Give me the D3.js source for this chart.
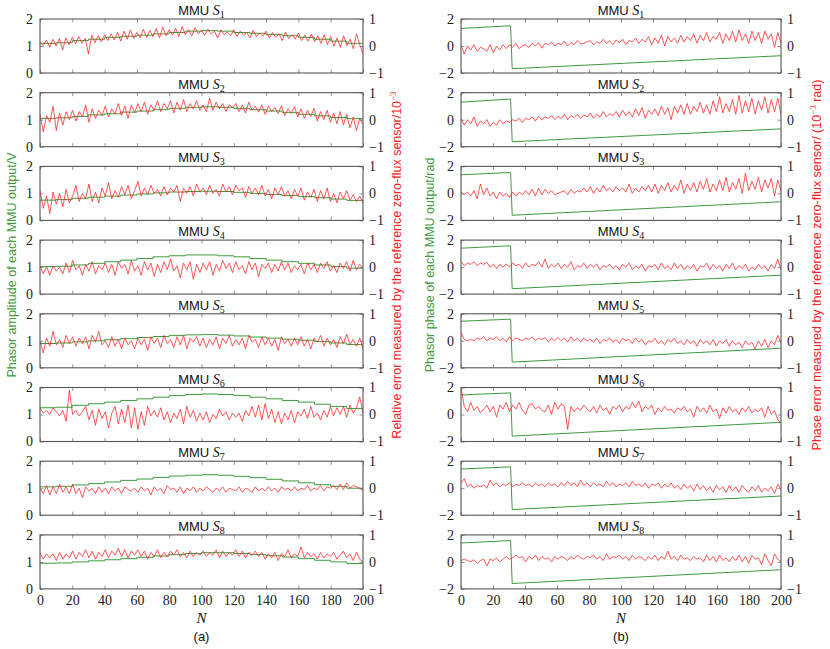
<!DOCTYPE html>
<html>
<head>
<meta charset="utf-8">
<script src="https://cdn.jsdelivr.net/npm/d3@7"></script>
<style>
body { margin:0; background:#fff; }
svg { display:block; }
</style>
</head>
<body>
<div id="chart"></div>
<script>
// ##### data #####
// green amplitude (left col), one level per 10 samples
var ampA1 = [1.10,1.12,1.20,1.25,1.32,1.36,1.40,1.45,1.50,1.55,1.57,1.55,1.50,1.47,1.42,1.38,1.32,1.25,1.18,1.10];
var ampA2 = [1.05,1.07,1.12,1.18,1.22,1.28,1.32,1.37,1.42,1.46,1.48,1.46,1.42,1.37,1.32,1.26,1.20,1.14,1.08,1.04];
var ampA3 = [0.75,0.77,0.82,0.86,0.90,0.94,0.98,1.02,1.05,1.07,1.08,1.07,1.04,1.00,0.96,0.92,0.88,0.84,0.79,0.74];
var ampA4 = [1.02,1.03,1.08,1.14,1.20,1.26,1.32,1.38,1.42,1.45,1.45,1.42,1.38,1.32,1.26,1.20,1.14,1.08,1.02,0.96];
var ampA5 = [0.90,0.92,0.96,1.00,1.04,1.08,1.12,1.16,1.20,1.22,1.23,1.21,1.18,1.14,1.10,1.06,1.02,0.97,0.92,0.86];
var ampA6 = [1.25,1.27,1.34,1.40,1.46,1.52,1.58,1.64,1.70,1.74,1.76,1.74,1.70,1.64,1.58,1.52,1.46,1.38,1.30,1.22];
var ampA7 = [1.05,1.07,1.12,1.17,1.23,1.29,1.34,1.40,1.45,1.48,1.50,1.48,1.44,1.39,1.33,1.27,1.20,1.13,1.07,1.00];
var ampA8 = [0.95,0.96,1.00,1.04,1.08,1.12,1.17,1.22,1.27,1.31,1.34,1.34,1.31,1.27,1.23,1.18,1.12,1.06,1.00,0.94];
var ampN = [0,10,20,30,40,50,60,70,80,90,100,110,120,130,140,150,160,170,180,190];

// red relative error (left col), N = 0,2,...,200
var errA1 = [.15,.02,.22,-.05,.25,.0,.28,-.15,.3,.05,.32, .08,.35,.1,.28,-.3,.4,.12,.38,.15,.42, .2,.45,.22,.5,.18,.55,.25,.6,.28,.5,
  .3,.62,.32,.58,.35,.65,.3,.7,.38,.6, .4,.66,.35,.72,.42,.6,.38,.68,.45,.58, .4,.62,.44,.55,.3,.6,.42,.52,.38,.6,
  .35,.55,.4,.5,.3,.58,.35,.48,.36,.55, .3,.5,.32,.45,.2,.52,.28,.42,.25,.48, .2,.4,.18,.45,.15,.38,.1,.42,.05,.35,
  .0,.3,-.05,.38,.02,.25,-.1,.45,.05,-.3];
var errA2 = [.2,-.45,.15,-.1,.5,-.4,.25,-.2,.3,.0,.35, -.05,.3,.1,.55,-.1,.4,.05,.35,.15, .5,.1,.4,.2,.6,.15,.5,.05,.55,.25,
  .6,.3,.65,.2,.55,.35,.7,.3,.6,.4, .7,.25,.65,.35,.75,.3,.6,.4,.7,.35, .55,.3,.8,.35,.65,.4,.6,.3,.55,.45,
  .6,.3,.55,.25,.65,.35,.5,.28,.55,.2, .5,.3,.45,.22,.52,.15,.4,.25,.48,.1, .4,.05,.35,.12,.42,-.05,.3,.0,.35,-.1,
  .25,-.15,.3,-.2,.2,-.3,.1,-.4,.05,-.2];
var errA3 = [.1,-.55,-.1,-.75,.05,-.4,.0,-.5,.15,-.35,-.1, .3,-.3,.0,-.2,.35,-.3,.05,-.35,.2, -.1,.4,-.2,.1,-.15,.25,-.05,.3,-.2,.1,
  .45,-.1,.2,-.05,.3,.0,.15,-.1,.25,-.05, .2,.05,.3,-.3,.2,.0,.25,-.1,.35,.05, .2,-.05,.3,.0,.15,-.1,.35,.05,.25,-.05,
  .3,.1,.2,-.15,.25,.0,.2,-.05,.3,-.1, .15,-.2,.2,-.05,.25,-.1,.1,-.2,.15,-.1, .2,-.25,.05,-.15,.15,-.3,.1,-.2,.2,-.3,
  .0,-.35,.05,-.2,.1,-.25,-.05,-.3,-.1,-.35];
var errA4 = [.05,-.25,.02,-.3,.05,-.15,.0,-.25,.15,-.2,.25, -.1,.05,-.3,.1,-.15,.2,-.25,.05,-.1, .15,-.2,.1,-.3,.2,-.05,.1,-.25,.25,-.15,
  .05,-.3,.2,-.1,.15,-.35,.1,-.2,.2,-.1, .3,-.15,.05,-.4,.15,-.1,.2,-.45,.1,-.2, .15,-.1,.2,-.3,.1,-.15,.25,-.05,.15,-.2,
  .2,-.1,.05,-.25,.2,-.1,.15,-.35,.1,-.05, .15,-.2,.1,-.15,.2,-.1,.15,-.2,.05,-.1, .1,-.25,.15,-.1,.1,-.2,.15,-.05,.2,-.15,
  .05,-.2,.15,-.05,.2,-.15,.25,-.1,.1,-.05];
var errA5 = [.0,-.45,.1,-.2,.35,-.15,.05,-.25,.2,-.1,.15, -.2,.1,-.1,.15,-.3,.2,-.05,.35,-.15, .0,-.25,.15,-.2,.05,-.3,.1,-.15,.0,-.3,
  .1,-.15,.05,-.35,.15,-.1,.1,-.25,.2,-.1, .05,-.25,.15,-.15,.2,-.3,.1,-.05,.15,-.2, .1,-.25,.05,-.15,.15,-.3,.1,-.1,.2,-.2,
  .05,-.15,.1,-.3,.2,-.05,.05,-.25,.15,-.15, .1,-.2,.05,-.35,.15,-.1,.05,-.2,.1,-.15, .15,-.2,.05,-.3,.1,-.05,.2,-.2,.1,-.15,
  .05,-.25,.15,-.1,.25,-.15,.05,-.2,.1,-.3];
var errA6 = [.25,.05,.15,.0,.25,.1,-.05,.15,-.25,.9,.0, .15,-.05,.1,.3,-.2,.15,-.4,.2,-.15, .1,-.5,.05,.3,-.35,.2,-.3,.35,-.5,.25,
  -.55,.1,-.4,.3,-.05,.15,-.1,.25,-.2,.1, -.3,.05,-.15,.2,-.35,.3,-.1,.15,-.25,.05, -.2,.1,-.3,.0,-.15,.2,-.05,.1,-.2,.05,
  -.1,.05,-.25,.15,-.05,.3,-.1,.35,-.2,.4, -.15,.2,-.3,.1,-.35,.05,-.2,.15,-.3,.1, -.05,.2,-.15,.3,-.1,.05,-.2,.15,-.1,.3,
  -.05,.25,.0,.3,-.1,.35,.05,.25,.65,.05];
var errA7 = [.0,-.2,.1,-.25,.05,-.2,.15,-.15,.05,-.2,.15, -.2,.0,-.35,.05,-.1,.0,-.2,.05,-.15, .0,-.2,.05,-.1,.0,-.2,.05,-.05,-.1,.0,
  -.15,.05,-.1,.0,-.25,.05,-.1,.0,-.2,.1, -.05,.0,-.15,.05,-.2,.0,-.1,.05,-.15,.0, -.1,.05,-.05,-.15,.0,-.1,.05,-.15,.0,-.05,
  -.1,.05,-.15,.0,-.05,-.15,.05,-.1,.0,-.1, .05,-.1,.0,-.15,.05,-.05,.0,-.1,.05,-.1, .0,-.05,.1,-.1,.0,-.05,.1,-.1,.05,.0,
  .1,-.05,.15,-.05,.2,.0,.1,.05,.0,-.1];
var errA8 = [.35,.1,.3,.15,.3,.05,.35,.1,.3,.15,.4, .1,.35,.2,.45,.15,.4,.1,.35,.2, .45,.15,.4,.25,.5,.2,.45,.15,.4,.25,
  .45,.2,.4,.1,.35,.2,.45,.15,.35,.2, .4,.25,.45,.2,.35,.15,.4,.2,.35,.25, .4,.2,.35,.25,.45,.15,.4,.2,.35,.25,
  .45,.2,.4,.15,.35,.25,.4,.2,.35,.1, .3,.15,.35,.05,.3,.2,.45,.15,.3,.2, .55,.15,.35,.2,.3,.1,.35,.15,.3,.2,
  .35,.1,.25,.4,.15,.3,.05,.35,.1,.0];

// green phase (right col)
var phaseN = [0,31,32,200];
var phaseB1 = [1.30,1.50,-1.68,-0.72];
var phaseB2 = [1.30,1.53,-1.63,-0.68];
var phaseB3 = [1.38,1.55,-1.62,-0.62];
var phaseB4 = [1.40,1.58,-1.60,-0.60];
var phaseB5 = [1.45,1.60,-1.58,-0.55];
var phaseB6 = [1.45,1.60,-1.60,-0.58];
var phaseB7 = [1.42,1.58,-1.58,-0.58];
var phaseB8 = [1.40,1.58,-1.60,-0.58];

// red phase error (right col)
var errB1 = [.05,-.3,.0,-.15,.05,-.2,-.05,-.1,-.2,.05,-.25, .0,-.15,.05,-.1,.05,-.05,.1,-.1,.0, .05,-.05,.1,.0,.12,-.08,.1,.05,.15,.0,
  .1,.05,.18,.0,.12,.05,.2,.08,.1,.15, .2,.05,.15,.1,.25,.1,.2,.05,.22,.12, .25,.05,.2,.15,.3,.1,.25,.15,.35,.05,
  .3,.1,.4,.0,.35,.15,.3,.1,.4,.15, .35,.2,.45,.1,.4,.2,.5,.15,.35,.25, .5,.1,.45,.2,.55,.15,.6,.2,.45,.1,
  .55,.2,.5,.1,.55,.25,.45,-.05,.5,.1];
var errB2 = [.05,-.2,.0,-.15,.1,-.25,-.05,-.15,.0,-.25,-.1, -.2,.0,-.15,-.05,-.1,.0,-.05,.05,-.1, .05,.0,.1,-.05,.12,.0,.1,.05,.15,.0,
  .12,.05,.2,.0,.15,.08,.2,.05,.18,.1, .25,.05,.2,.1,.3,.1,.22,.15,.3,.1, .35,.15,.3,.1,.4,.15,.45,.05,.35,.2,
  .4,.15,.5,.2,.45,.0,.5,.25,.55,.2, .6,.2,.5,.3,.65,.25,.55,.2,.7,.3, .85,.25,.6,.3,.75,.2,.9,.25,.7,.3,
  .8,.2,.7,.35,.85,.25,.75,.3,.8,.2];
var errB3 = [.05,-.05,.05,-.1,.1,-.2,.35,-.05,.2,-.1,.05, -.2,.05,-.1,.0,-.15,.05,-.1,.05,-.05, .1,-.05,.15,-.1,.2,-.05,.15,.0,.1,-.05,
  .0,.05,.1,-.05,.15,.0,.1,.05,.2,.05, .25,.0,.2,.05,.3,.1,.2,.05,.25,.1, .2,.05,.35,.0,.2,.05,.25,.1,.3,.05,
  .35,.0,.3,.1,.4,.05,.3,.1,.5,.0, .35,.1,.4,.05,.45,.15,.55,.05,.35,.1, .5,.1,.6,.05,.4,.15,.55,.0,.75,.1,
  .45,.15,.6,.05,.5,.2,.55,-.1,.5,.1];
var errB4 = [.2,.05,.15,.1,.2,.05,.15,.1,.18,.0,.1, -.05,.1,.0,.12,.0,.15,.05,.1,-.05, .15,.0,.1,.05,.2,.0,.3,-.05,.1,.0,
  .15,-.05,.1,.0,.2,-.1,.05,.0,.15,-.05, .1,.0,.12,-.1,.05,.0,.1,-.05,.05,-.1, .1,.0,.15,-.1,.05,-.05,.1,-.15,.05,.0,
  .1,-.1,.15,-.05,.05,-.1,.15,-.05,.1,-.1, .05,-.05,.1,-.15,.05,.0,.15,-.1,.1,-.05, .05,-.15,.1,-.05,.15,-.1,.05,-.05,.1,-.15,
  .0,-.1,.1,-.05,.05,-.15,.1,-.05,.3,-.1];
var errB5 = [.3,.05,.0,.05,.0,.1,.05,.15,.0,.1,.05, .15,.0,.1,-.05,.15,.0,.1,.05,.0, .1,.05,.15,.0,.1,.05,.12,-.05,.1,.0,
  .12,.0,.1,-.05,.15,.0,.1,-.05,.1,.0, .05,-.05,.1,-.1,.05,.0,.1,-.05,.05,-.1, .1,.0,.05,-.1,.1,-.05,.05,-.15,.0,-.05,
  .1,-.1,.0,-.15,.05,-.05,.1,-.1,.0,-.15, .05,-.1,.0,-.2,.05,-.1,.0,-.15,.05,-.2, .0,-.1,.05,-.2,.0,-.15,-.05,-.25,.0,-.15,
  -.05,-.3,.0,-.2,.05,-.25,.0,-.15,.2,-.1];
var errB6 = [1.0,.3,.1,.45,.15,.3,.05,.2,.35,.1,.3, -.1,.35,.2,.45,.1,.35,.2,.45,.15, .0,.35,.4,.2,.3,.15,.1,.35,.0,.45,
  .2,.4,.3,-.55,.3,.1,.25,.15,.35,.2, .1,.3,.05,.35,.15,.25,.0,.3,.2,.35, .1,.3,.2,.45,.25,.5,.1,.3,.2,.35,
  .0,.25,.1,.3,.15,.2,.05,.25,.15,.3, .1,.2,-.1,.3,.1,.25,.05,.35,.1,.2, -.15,.25,.05,.3,.1,.2,.0,.25,.1,.3,
  .05,.2,.1,.25,-.1,.3,.0,.15,-.2,-.3];
var errB7 = [.2,.35,.05,.15,.0,.1,.05,.12,.0,.3,.1, .2,.05,.15,.1,.2,.05,.15,.1,.2, .1,.15,.05,.2,.1,.15,.05,.2,.1,.15,
  .05,.2,.1,.25,.1,.2,.05,.3,.1,.2, .05,.2,.1,.15,.05,.25,.1,.2,.05,.15, .1,.2,.05,.25,.1,.15,.05,.2,.0,.15,
  .1,.2,.0,.15,.05,.2,.0,.1,-.05,.15, .0,.1,-.1,.15,-.05,.1,-.1,.05,-.15,.1, -.05,.05,-.15,.1,-.1,.05,-.15,.1,-.05,-.15,
  .05,-.1,.1,-.15,.0,-.1,.05,-.2,.15,-.05];
var errB8 = [.05,.1,.05,.0,.08,-.05,.05,.1,-.15,.1,.05, .15,.0,.1,.2,.1,.15,.25,.15,.2, .0,.2,.1,.25,.05,.2,.1,.15,.0,.2,
  .1,.2,.15,.05,.2,.1,.25,.15,.1,.2, .15,.25,.1,.2,.05,.3,.1,.2,.15,.25, .1,.2,.05,.25,.1,.2,.15,.05,.2,.1,
  .25,.05,.2,.1,.4,.1,.2,.05,.25,.1, .15,.05,.2,.1,.15,.0,.25,.05,.2,.0, .25,.05,.15,.0,.2,.05,.25,.0,.2,-.05,
  .25,.1,.15,-.1,.3,.05,-.15,.3,.1,.0];

var xTicks = [0,20,40,60,80,100,120,140,160,180,200];

// ##### layout #####
var W = 830, H = 649;
var green = "#3d9b3d", red = "#ff2020", frame = "#555";
var serif = "'Liberation Serif', 'DejaVu Serif', serif";
var sans = "'Liberation Sans', 'DejaVu Sans', sans-serif";
var cols = [{x0:40, x1:363, yl:[0,2], yt:[0,1,2]}, {x0:461, x1:781, yl:[-2,2], yt:[-2,0,2]}];
var rowTop = 19, rowStep = 73.7, panelH = 54;

var panels = [
  [ampA1,errA1],[ampA2,errA2],[ampA3,errA3],[ampA4,errA4],[ampA5,errA5],[ampA6,errA6],[ampA7,errA7],[ampA8,errA8]
];
var phasePanels = [
  [phaseB1,errB1],[phaseB2,errB2],[phaseB3,errB3],[phaseB4,errB4],[phaseB5,errB5],[phaseB6,errB6],[phaseB7,errB7],[phaseB8,errB8]
];

var svg = d3.select("#chart").append("svg").attr("width",W).attr("height",H)
  .style("font-family", serif);

function fmt(d){ return d < 0 ? "\u2212" + Math.abs(d) : "" + d; }

function drawPanel(c, r, greenPts, greenCurve, errs){
  var col = cols[c];
  var top = rowTop + r*rowStep, bot = top + panelH;
  var x = d3.scaleLinear().domain([0,200]).range([col.x0, col.x1]);
  var yl = d3.scaleLinear().domain(col.yl).range([bot, top]);
  var yr = d3.scaleLinear().domain([-1,1]).range([bot, top]);
  var g = svg.append("g");

  var clipId = "clip" + c + "_" + r;
  g.append("clipPath").attr("id", clipId).append("rect")
    .attr("x", col.x0).attr("y", top).attr("width", col.x1-col.x0).attr("height", panelH);

  // green
  g.append("path")
    .datum(greenPts)
    .attr("clip-path","url(#"+clipId+")")
    .attr("fill","none").attr("stroke",green).attr("stroke-width",1)
    .attr("d", d3.line().curve(greenCurve).x(function(d){return x(d[0]);}).y(function(d){return yl(d[1]);}));

  // red
  var n = errs.length;
  g.append("path")
    .datum(errs)
    .attr("clip-path","url(#"+clipId+")")
    .attr("fill","none").attr("stroke",red).attr("stroke-width",0.75).attr("stroke-linejoin","round")
    .attr("d", d3.line().x(function(d,i){return x(i*200/(n-1));}).y(function(d){return yr(d);}));

  // axes
  var last = (r === 7);
  var ax = g.append("g").attr("transform","translate(0,"+bot+")")
    .call(d3.axisBottom(x).tickValues(xTicks).tickSize(-3.5).tickPadding(6).tickFormat(last ? fmt : function(){return "";}));
  g.append("g").attr("transform","translate(0,"+top+")")
    .call(d3.axisTop(x).tickValues(xTicks).tickSize(-3.5).tickFormat(function(){return "";}));
  g.append("g").attr("transform","translate("+col.x0+",0)")
    .call(d3.axisLeft(yl).tickValues(col.yt).tickSize(-3.5).tickPadding(7).tickFormat(fmt));
  g.append("g").attr("transform","translate("+col.x1+",0)")
    .call(d3.axisRight(yr).tickValues([-1,0,1]).tickSize(-3.5).tickPadding(6).tickFormat(fmt));

  g.selectAll(".domain").remove();
  g.selectAll(".tick line").attr("stroke","#777").attr("stroke-width",0.8);
  g.selectAll(".tick text").attr("font-family",serif).attr("font-size","14px").attr("fill","#222");

  g.append("rect").attr("x",col.x0).attr("y",top).attr("width",col.x1-col.x0).attr("height",panelH)
    .attr("fill","none").attr("stroke",frame).attr("stroke-width",1.1);

  // title
  var t = g.append("text").attr("x",(col.x0+col.x1)/2).attr("y",top-4).attr("text-anchor","middle")
    .attr("fill","#111");
  t.append("tspan").attr("font-family",sans).attr("font-size","13px").text("MMU ");
  t.append("tspan").attr("font-family",serif).attr("font-style","italic").attr("font-size","14px").text("S");
  t.append("tspan").attr("font-family",serif).attr("font-size","10px").attr("dy",3).text(r+1);
}

panels.forEach(function(p, r){
  var pts = ampN.map(function(n,i){ return [n, p[0][i]]; });
  pts.push([200, p[0][p[0].length-1]]);
  drawPanel(0, r, pts, d3.curveStepAfter, p[1]);
});
phasePanels.forEach(function(p, r){
  var pts = phaseN.map(function(n,i){ return [n, p[0][i]]; });
  drawPanel(1, r, pts, d3.curveLinear, p[1]);
});

// x labels
[0,1].forEach(function(c){
  var cx = (cols[c].x0 + cols[c].x1)/2;
  svg.append("text").attr("x",cx).attr("y",623).attr("text-anchor","middle")
    .attr("font-family",serif).attr("font-style","italic").attr("font-size","15px").attr("fill","#111").text("N");
  svg.append("text").attr("x",cx).attr("y",641).attr("text-anchor","middle")
    .attr("font-family",sans).attr("font-size","13px").attr("fill","#111").text(c === 0 ? "(a)" : "(b)");
});

// vertical axis labels
function vlabel(x, color, parts){
  var t = svg.append("text").attr("transform","translate("+x+",265) rotate(-90)")
    .attr("text-anchor","middle").attr("font-family",sans).attr("font-size","12.5px").attr("fill",color);
  parts.forEach(function(p){
    var s = t.append("tspan").text(p.t);
    if (p.sup) s.attr("font-size","9px").attr("dy",-5);
    if (p.down) s.attr("dy",5);
    if (p.serif) s.attr("font-family",serif);
  });
}
vlabel(16, green, [{t:"Phasor amplitude of each MMU output/V"}]);
vlabel(401, red, [{t:"Relative error measured by the reference zero-flux sensor/10",}, {t:"\u22123", sup:true, serif:true}]);
vlabel(434, green, [{t:"Phasor phase of each MMU output/rad"}]);
vlabel(821, red, [{t:"Phase error measured by the reference zero-flux sensor/ (10"}, {t:"\u22123", sup:true, serif:true}, {t:" rad)", down:true}]);
</script>
</body>
</html>
